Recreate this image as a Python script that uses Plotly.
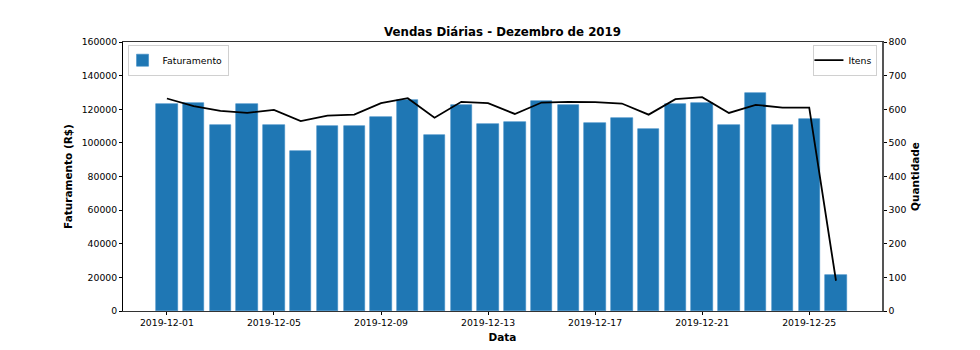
import plotly.graph_objects as go
import pandas as pd

# Daily sales, December 2019
datas = pd.date_range("2019-12-01", "2019-12-26", freq="D").strftime("%Y-%m-%d").tolist()

faturamento = [
    123100, 123700, 110800, 123100, 110800, 95200, 110000, 110000, 115400, 125500,
    104700, 122500, 111200, 112400, 124900, 122500, 111600, 115000, 108000, 123100,
    123900, 110800, 129700, 110600, 114200, 21600,
]

itens = [
    632, 609, 595, 589, 598, 565, 581, 584, 618, 633,
    575, 622, 618, 586, 620, 622, 621, 617, 584, 630,
    636, 589, 613, 605, 605, 90,
]

ticks_fat = [0, 20000, 40000, 60000, 80000, 100000, 120000, 140000, 160000]
ticks_qtd = [0, 100, 200, 300, 400, 500, 600, 700, 800]
ticks_data = ["2019-12-01", "2019-12-05", "2019-12-09", "2019-12-13",
              "2019-12-17", "2019-12-21", "2019-12-25"]

FONT = "DejaVu Sans"
DAY_MS = 86400000

fig = go.Figure()

fig.add_trace(go.Bar(
    x=datas, y=faturamento, name="Faturamento",
    width=0.8 * DAY_MS,
    marker=dict(color="#1f77b4", line=dict(color="#3a8ac4", width=0.6)),
    legend="legend", showlegend=True,
))

fig.add_trace(go.Scatter(
    x=datas, y=itens, name="Itens", mode="lines",
    line=dict(color="black", width=1.8),
    yaxis="y2", legend="legend2", showlegend=True,
))

legend_style = dict(
    yanchor="top", y=0.99,
    bgcolor="rgba(255,255,255,0.8)", bordercolor="#d0d0d0", borderwidth=1,
    font=dict(family=FONT, size=9.3), itemwidth=30, indentation=-6,
)

fig.update_layout(
    width=980, height=350,
    margin=dict(l=123, r=98, t=42, b=39, autoexpand=False),
    plot_bgcolor="white", paper_bgcolor="white",
    showlegend=True,
    font=dict(family=FONT, size=9.3, color="black"),
    title=dict(
        text="<b>Vendas Diárias - Dezembro de 2019</b>",
        x=(123 + 882) / 2 / 980, xanchor="center",
        y=1 - 32 / 350, yanchor="middle",
        font=dict(family=FONT, size=11.8, color="black"),
    ),
    bargap=0,
    xaxis=dict(
        type="date", automargin=False,
        range=["2019-11-29 08:38", "2019-12-27 17:16"],
        tickvals=ticks_data, ticktext=ticks_data,
        ticks="outside", ticklen=3, tickcolor="black",
        showgrid=False, zeroline=False,
        showline=True, linecolor="#333", linewidth=1.2, mirror=True,
        title=dict(text="<b>Data</b>", font=dict(family=FONT, size=10.5), standoff=6),
    ),
    yaxis=dict(
        range=[0, 160000], tickvals=ticks_fat, automargin=False,
        ticktext=[str(v) for v in ticks_fat],
        ticks="outside", ticklen=3, tickcolor="black",
        showgrid=False, zeroline=False,
        showline=True, linecolor="black", linewidth=1,
        title=dict(text="<b>Faturamento (R$)</b>", font=dict(family=FONT, size=10.5), standoff=6),
    ),
    yaxis2=dict(
        range=[0, 800], tickvals=ticks_qtd, automargin=False,
        ticktext=[str(v) for v in ticks_qtd],
        overlaying="y", side="right",
        ticks="outside", ticklen=3, tickcolor="black",
        showgrid=False, zeroline=False,
        showline=True, linecolor="#555", linewidth=1.5,
        title=dict(text="<b>Quantidade</b>", font=dict(family=FONT, size=10.5), standoff=6),
    ),
    legend=dict(x=0.006, xanchor="left", **legend_style),
    legend2=dict(x=0.994, xanchor="right", **legend_style),
)

fig.write_html("out.html")
